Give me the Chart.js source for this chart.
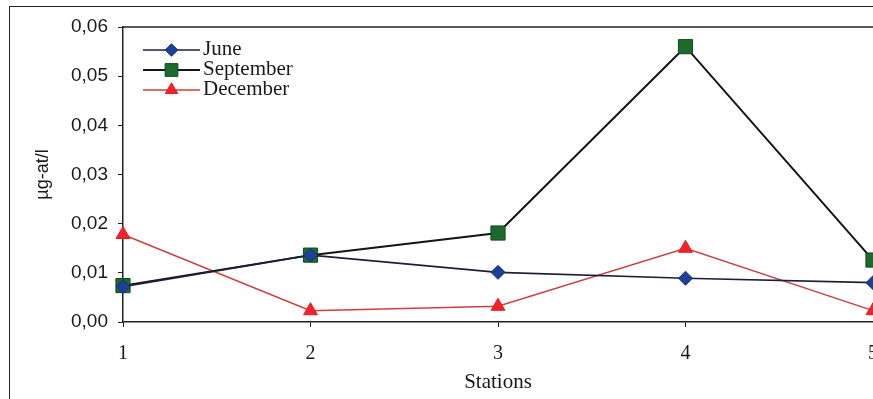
<!DOCTYPE html>
<html>
<head>
<meta charset="utf-8">
<script src="https://cdn.jsdelivr.net/npm/chart.js@4/dist/chart.umd.min.js"></script>
<style>
  html, body { margin: 0; padding: 0; background: #fff; overflow: hidden; width: 873px; height: 399px; }
  #frame { position: absolute; left: 9px; top: 6px; width: 900px; height: 400px; border-left: 1.5px solid #222; border-top: 1.5px solid #222; }
  #wrap { position: absolute; left: 0; top: 0; width: 900px; height: 399px; }
</style>
</head>
<body>
<div id="frame"></div>
<div id="wrap"><canvas id="c" width="900" height="399"></canvas></div>
<script>
// ---- data ----
const stations = ["1", "2", "3", "4", "5"];
const seriesNames = ["June", "September", "December"];
const june      = [0.0072, 0.0136, 0.0101, 0.0089, 0.0080];
const september = [0.0074, 0.0136, 0.0181, 0.0560, 0.0126];
const december  = [0.0178, 0.0023, 0.0032, 0.0150, 0.0023];
const yTicks = [0, 0.01, 0.02, 0.03, 0.04, 0.05, 0.06];
const yTitle = "µg-at/l";
const xTitle = "Stations";

const styles = [
  { line: "#1b2036", fill: "#1d3f9a", border: "#15306f", point: "rectRot", radius: 7, width: 1.6 },
  { line: "#151515", fill: "#1d6b2c", border: "#0f4a1a", point: "rect", radius: 10, width: 2 },
  { line: "#c9403f", fill: "#f0232b", border: "#e01c22", point: "triangle", radius: 8, width: 1.4 }
];
const values = [june, september, december];

const datasets = seriesNames.map((name, i) => ({
  label: name,
  data: values[i],
  borderColor: styles[i].line,
  borderWidth: styles[i].width,
  backgroundColor: styles[i].fill,
  pointBackgroundColor: styles[i].fill,
  pointBorderColor: styles[i].border,
  pointBorderWidth: 1,
  pointStyle: styles[i].point,
  pointRadius: styles[i].radius,
  pointHoverRadius: styles[i].radius,
  tension: 0,
  clip: false
}));

const legendPlugin = {
  id: "lineLegend",
  afterDatasetsDraw(chart) {
    const ctx = chart.ctx;
    const x0 = 143, x1 = 200, tx = 203;
    const rows = [50, 70, 90];
    ctx.save();
    seriesNames.forEach((name, i) => {
      const y = rows[i];
      ctx.strokeStyle = styles[i].line;
      ctx.lineWidth = styles[i].width;
      ctx.beginPath();
      ctx.moveTo(x0, y);
      ctx.lineTo(x1, y);
      ctx.stroke();
      ctx.fillStyle = styles[i].fill;
      ctx.strokeStyle = styles[i].border;
      ctx.lineWidth = 1;
      Chart.helpers.drawPoint(ctx, { pointStyle: styles[i].point, radius: styles[i].radius * 0.9, borderWidth: 1 }, (x0 + x1) / 2, y);
      ctx.fillStyle = "#1a1a1a";
      ctx.font = "21px 'Liberation Serif'";
      ctx.textBaseline = "middle";
      ctx.textAlign = "left";
      ctx.fillText(name, tx, y - 1);
    });
    ctx.restore();
  }
};

const topLine = {
  id: "topLine",
  afterDraw(chart) {
    const { ctx, chartArea } = chart;
    ctx.save();
    ctx.strokeStyle = "#222";
    ctx.lineWidth = 1.5;
    ctx.beginPath();
    ctx.moveTo(chartArea.left, chartArea.top);
    ctx.lineTo(chartArea.right + 30, chartArea.top);
    ctx.stroke();
    ctx.restore();
  }
};

new Chart(document.getElementById("c"), {
  type: "line",
  data: { labels: stations, datasets },
  plugins: [legendPlugin, topLine],
  options: {
    responsive: false,
    animation: false,
    devicePixelRatio: 1,
    layout: { padding: { top: 27, right: 27, left: 0, bottom: 0 } },
    plugins: { legend: { display: false }, tooltip: { enabled: false } },
    scales: {
      x: {
        type: "category",
        offset: false,
        grid: { display: true, drawOnChartArea: false, drawTicks: true, tickLength: 5, color: "#222" },
        border: { display: true, color: "#222", width: 1.5 },
        ticks: { color: "#1a1a1a", font: { family: "'Liberation Serif'", size: 20 }, padding: 15, maxRotation: 0 },
        title: { display: true, text: xTitle, color: "#1a1a1a", font: { family: "'Liberation Serif'", size: 21 }, padding: { top: 0, bottom: 4 } },
        afterFit(scale) { scale.height = 77; }
      },
      y: {
        min: 0, max: 0.06,
        afterBuildTicks(scale) { scale.ticks = yTicks.map(v => ({ value: v })); },
        grid: { display: true, drawOnChartArea: false, drawTicks: true, tickLength: 5, color: "#222" },
        border: { display: true, color: "#222", width: 1.5 },
        ticks: {
          color: "#1a1a1a",
          font: { family: "'Liberation Sans'", size: 19 },
          padding: 10,
          callback: (v) => Number(v).toFixed(2).replace(".", ",")
        },
        title: { display: true, text: yTitle, color: "#1a1a1a", font: { family: "'Liberation Sans'", size: 18 }, padding: { top: 32, bottom: 0 } },
        afterFit(scale) { scale.width = 123; }
      }
    }
  }
});
</script>
</body>
</html>
